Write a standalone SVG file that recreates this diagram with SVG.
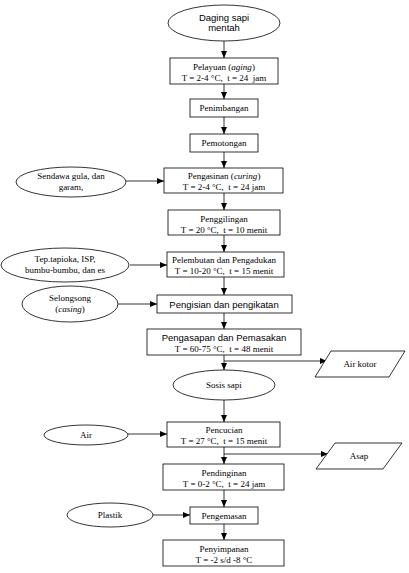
<svg xmlns="http://www.w3.org/2000/svg" width="409" height="573" viewBox="0 0 409 573">
<defs>
<marker id="ah" markerWidth="8" markerHeight="6" refX="7" refY="3" orient="auto" markerUnits="userSpaceOnUse">
<path d="M0,0 L7,3 L0,6 Z" fill="#000"/>
</marker>
<style>
.b{fill:#fff;stroke:#000;stroke-width:0.8}
.c{fill:none;stroke:#000;stroke-width:0.8;marker-end:url(#ah)}
.s{font-family:"Liberation Serif","Times New Roman",serif;font-size:9px;fill:#000;text-anchor:middle;white-space:pre}
.a{font-family:"Liberation Sans",Arial,sans-serif;font-size:9.5px;fill:#000;text-anchor:middle;white-space:pre}
.i{font-style:italic}
</style>
</defs>
<rect width="409" height="573" fill="#fff"/>
<g id="connectors">
<path class="c" d="M224,41 V58"/>
<path class="c" d="M224,84 V99"/>
<path class="c" d="M224,117 V134"/>
<path class="c" d="M224,152 V168"/>
<path class="c" d="M224,193 V210"/>
<path class="c" d="M224,235 V252"/>
<path class="c" d="M224,277 V295"/>
<path class="c" d="M224,313 V329"/>
<path class="c" d="M224,355 V370"/>
<path class="c" d="M224,361 H327"/>
<path class="c" d="M224,400 V422"/>
<path class="c" d="M224,447 V464"/>
<path class="c" d="M224,454 H328"/>
<path class="c" d="M224,490 V507"/>
<path class="c" d="M224,524 V540"/>
<path class="c" d="M126,181 H164"/>
<path class="c" d="M130,265 H167"/>
<path class="c" d="M118,304 H157"/>
<path class="c" d="M128,434 H167"/>
<path class="c" d="M153,515 H190"/>
</g>
<g id="n-daging"><ellipse class="b" cx="224" cy="23" rx="56" ry="18"/><text class="a" x="224" y="21">Daging sapi</text><text class="a" x="224" y="31">mentah</text></g>
<g id="n-pelayuan"><rect class="b" x="170" y="58" width="108" height="26"/><text class="s" x="224" y="69.5">Pelayuan (<tspan class="i">aging</tspan>)</text><text class="s" x="224" y="80.5">T = 2-4 °C,  t = 24  jam</text></g>
<g id="n-penimbangan"><rect class="b" x="190" y="99" width="68" height="18"/><text class="s" x="224" y="111">Penimbangan</text></g>
<g id="n-pemotongan"><rect class="b" x="190" y="134" width="68" height="18"/><text class="s" x="224" y="146">Pemotongan</text></g>
<g id="n-pengasinan"><rect class="b" x="164" y="168" width="119" height="25"/><text class="s" x="224" y="179">Pengasinan (<tspan class="i">curing</tspan>)</text><text class="s" x="224" y="190">T = 2-4 °C,  t = 24 jam</text></g>
<g id="n-penggilingan"><rect class="b" x="168" y="210" width="112" height="25"/><text class="s" x="224" y="221.5">Penggilingan</text><text class="s" x="224" y="232.5">T = 20 °C,  t = 10 menit</text></g>
<g id="n-pelembutan"><rect class="b" x="167" y="252" width="117" height="25"/><text class="s" x="224" y="263">Pelembutan dan Pengadukan</text><text class="s" x="224" y="274">T = 10-20 °C,  t = 15 menit</text></g>
<g id="n-pengisian"><rect class="b" x="157" y="295" width="135" height="18"/><text class="a" x="224" y="307.5">Pengisian dan pengikatan</text></g>
<g id="n-pengasapan"><rect class="b" x="147" y="329" width="154" height="26"/><text class="a" x="224" y="341">Pengasapan dan Pemasakan</text><text class="s" x="224" y="351.5">T = 60-75 °C,  t = 48 menit</text></g>
<g id="n-airkotor"><polygon class="b" points="331,351 405,351 389,377 315,377"/><text class="s" x="360" y="367">Air kotor</text></g>
<g id="n-sosis"><ellipse class="b" cx="224" cy="385" rx="51" ry="15"/><text class="s" x="224" y="388">Sosis sapi</text></g>
<g id="n-pencucian"><rect class="b" x="167" y="422" width="113" height="25"/><text class="s" x="224" y="433">Pencucian</text><text class="s" x="224" y="444">T = 27 °C,  t = 15 menit</text></g>
<g id="n-asap"><polygon class="b" points="335,443 402,443 383,469 316,469"/><text class="s" x="359" y="459">Asap</text></g>
<g id="n-pendinginan"><rect class="b" x="163" y="464" width="121" height="26"/><text class="s" x="224" y="475.5">Pendinginan</text><text class="s" x="224" y="486.5">T = 0-2 °C,  t = 24 jam</text></g>
<g id="n-pengemasan"><rect class="b" x="190" y="507" width="68" height="17"/><text class="s" x="224" y="518.5">Pengemasan</text></g>
<g id="n-penyimpanan"><rect class="b" x="163" y="540" width="121" height="26"/><text class="s" x="224" y="551.5">Penyimpanan</text><text class="s" x="224" y="562.5">T = -2 s/d -8 °C</text></g>
<g id="n-sendawa"><ellipse class="b" cx="71" cy="182" rx="55" ry="15"/><text class="s" x="71" y="179">Sendawa gula, dan</text><text class="s" x="71" y="190">garam,</text></g>
<g id="n-tep"><ellipse class="b" cx="65" cy="265" rx="64" ry="17"/><text class="s" x="65" y="262">Tep.tapioka, ISP,</text><text class="s" x="65" y="273">bumbu-bumbu, dan es</text></g>
<g id="n-selongsong"><ellipse class="b" cx="70" cy="304" rx="48" ry="18"/><text class="s" x="70" y="301">Selongsong</text><text class="s" x="70" y="312">(<tspan class="i">casing</tspan>)</text></g>
<g id="n-air"><ellipse class="b" cx="86" cy="435" rx="42" ry="10"/><text class="s" x="86" y="438">Air</text></g>
<g id="n-plastik"><ellipse class="b" cx="110" cy="515" rx="43" ry="12"/><text class="s" x="110" y="518">Plastik</text></g>
</svg>
